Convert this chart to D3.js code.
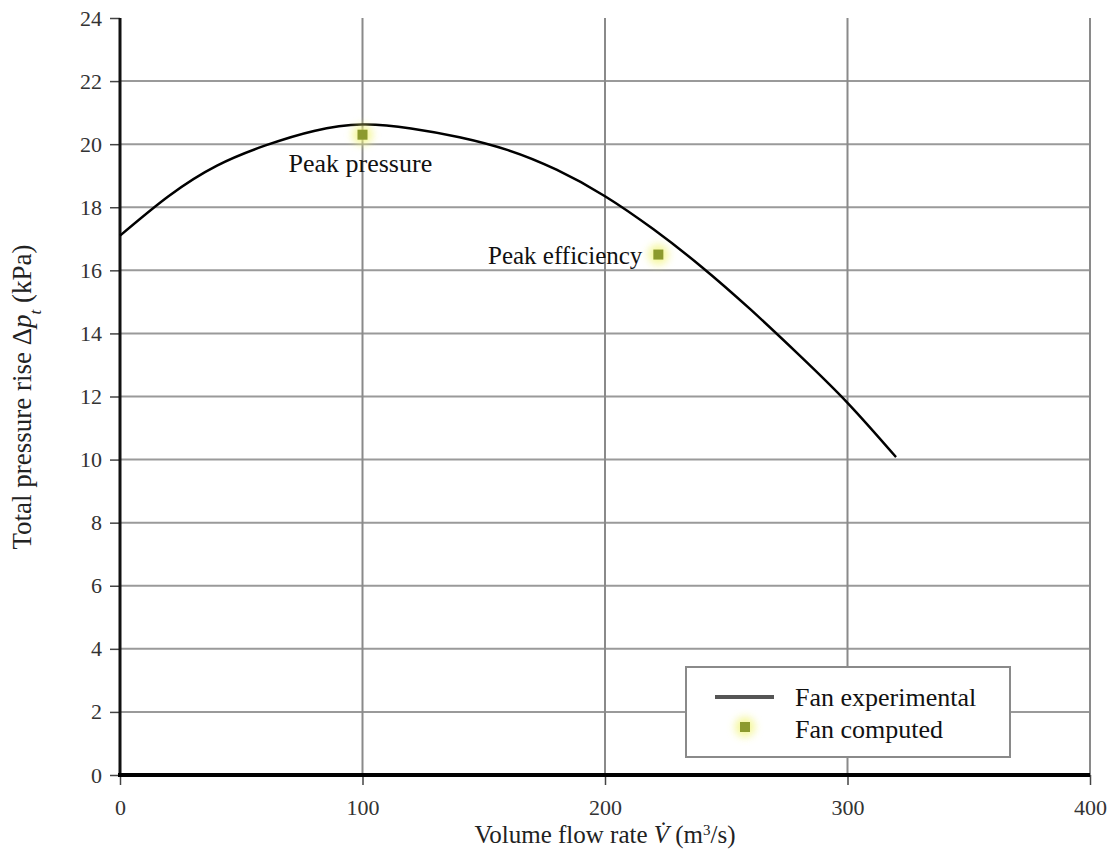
<!DOCTYPE html>
<html>
<head>
<meta charset="utf-8">
<script src="https://cdn.jsdelivr.net/npm/d3@7"></script>
<style>
  html, body { margin: 0; padding: 0; background: #fff; }
  svg { display: block; font-family: "Liberation Serif", "DejaVu Serif", serif; }
</style>
</head>
<body>
<svg id="chart" width="1116" height="852"></svg>
<script>
// Fan characteristic: measured curve
const flowExp = [0, 20, 40, 60, 80, 100, 120, 140, 160, 180, 200, 220, 240, 260, 280, 300, 320];
const pressureExp = [17.1, 18.35, 19.32, 19.96, 20.42, 20.62, 20.5, 20.22, 19.81, 19.19, 18.35, 17.3, 16.1, 14.76, 13.32, 11.8, 10.08];

// Computed operating points
const pointLabels = ["Peak pressure", "Peak efficiency"];
const flowComp = [100, 222];
const pressureComp = [20.3, 16.5];

const xTicks = [0, 100, 200, 300, 400];
const yTicks = [0, 2, 4, 6, 8, 10, 12, 14, 16, 18, 20, 22, 24];

const svg = d3.select("#chart");
const mLeft = 120, mRight = 1090, mTop = 18, mBottom = 775;

const x = d3.scaleLinear().domain([0, 400]).range([mLeft, mRight]);
const y = d3.scaleLinear().domain([0, 24]).range([mBottom, mTop]);

const defs = svg.append("defs");
defs.append("filter").attr("id", "glow").attr("x", "-100%").attr("y", "-100%")
  .attr("width", "300%").attr("height", "300%")
  .append("feGaussianBlur").attr("stdDeviation", 4);

// Grid
const grid = svg.append("g");
grid.selectAll("line.h").data(yTicks.filter(d => d > 0 && d < 24)).join("line")
  .attr("class", "h")
  .attr("x1", mLeft).attr("x2", mRight)
  .attr("y1", d => y(d)).attr("y2", d => y(d))
  .attr("stroke", "#9a9a9a").attr("stroke-width", 2);
grid.selectAll("line.v").data(xTicks.filter(d => d > 0)).join("line")
  .attr("class", "v")
  .attr("x1", d => x(d)).attr("x2", d => x(d))
  .attr("y1", mTop).attr("y2", mBottom)
  .attr("stroke", "#8a8a8a").attr("stroke-width", 2);

// Axes
const yAxis = d3.axisLeft(y).tickValues(yTicks).tickSize(10).tickPadding(8).tickFormat(d3.format("d"));
const gy = svg.append("g").attr("transform", `translate(${mLeft},0)`).call(yAxis);
gy.select(".domain").remove();
gy.selectAll(".tick line").attr("stroke", "#444").attr("stroke-width", 1.5);
gy.selectAll(".tick text").attr("font-family", "Liberation Serif, serif").attr("font-size", 22).attr("fill", "#333");

const xAxis = d3.axisBottom(x).tickValues(xTicks).tickSize(10).tickPadding(14).tickFormat(d3.format("d"));
const gx = svg.append("g").attr("transform", `translate(0,${mBottom})`).call(xAxis);
gx.select(".domain").remove();
gx.selectAll(".tick line").attr("stroke", "#444").attr("stroke-width", 1.5);
gx.selectAll(".tick text").attr("font-family", "Liberation Serif, serif").attr("font-size", 22).attr("fill", "#333");

svg.append("line").attr("x1", mLeft).attr("x2", mLeft).attr("y1", mTop).attr("y2", mBottom + 2)
  .attr("stroke", "#111").attr("stroke-width", 3);
svg.append("line").attr("x1", mLeft - 2).attr("x2", mRight).attr("y1", mBottom).attr("y2", mBottom)
  .attr("stroke", "#000").attr("stroke-width", 4);

// Experimental curve
const line = d3.line().x((d, i) => x(flowExp[i])).y(d => y(d)).curve(d3.curveNatural);
svg.append("path").datum(pressureExp).attr("d", line)
  .attr("fill", "none").attr("stroke", "#000").attr("stroke-width", 2.5);

// Computed points
const pts = svg.append("g");
flowComp.forEach((f, i) => {
  pts.append("circle").attr("cx", x(f)).attr("cy", y(pressureComp[i])).attr("r", 10)
    .attr("fill", "#f1f47a").attr("opacity", 0.8).attr("filter", "url(#glow)");
  pts.append("rect").attr("x", x(f) - 5).attr("y", y(pressureComp[i]) - 5)
    .attr("width", 10).attr("height", 10).attr("fill", "#8c9a2e");
});

// Point annotations
svg.append("text").attr("x", x(flowComp[0]) - 74).attr("y", y(pressureComp[0]) + 37)
  .attr("font-size", 26).attr("fill", "#111").text(pointLabels[0]);
svg.append("text").attr("x", x(flowComp[1]) - 16).attr("y", y(pressureComp[1]) + 9)
  .attr("text-anchor", "end").attr("font-size", 25).attr("fill", "#111").text(pointLabels[1]);

// Axis titles
svg.append("text").attr("x", 605).attr("y", 843).attr("text-anchor", "middle")
  .attr("font-size", 25).attr("fill", "#222")
  .html('Volume flow rate <tspan font-style="italic">V̇</tspan> (m<tspan baseline-shift="super" font-size="15">3</tspan>/s)');
svg.append("text").attr("transform", `translate(31,397) rotate(-90)`)
  .attr("text-anchor", "middle").attr("font-size", 27).attr("fill", "#222")
  .html('Total pressure rise Δ<tspan font-style="italic">p</tspan><tspan baseline-shift="sub" font-size="17" font-style="italic">t</tspan> (kPa)');

// Legend
const lg = svg.append("g");
lg.append("rect").attr("x", 686).attr("y", 667).attr("width", 324).attr("height", 90)
  .attr("fill", "#fff").attr("stroke", "#8a8a8a").attr("stroke-width", 2);
lg.append("line").attr("x1", 715).attr("x2", 774).attr("y1", 697).attr("y2", 697)
  .attr("stroke", "#555").attr("stroke-width", 4);
lg.append("text").attr("x", 795).attr("y", 706).attr("font-size", 26).attr("fill", "#111").text("Fan experimental");
lg.append("circle").attr("cx", 745).attr("cy", 727).attr("r", 10)
  .attr("fill", "#f1f47a").attr("opacity", 0.8).attr("filter", "url(#glow)");
lg.append("rect").attr("x", 740).attr("y", 722).attr("width", 10).attr("height", 10).attr("fill", "#8c9a2e");
lg.append("text").attr("x", 795).attr("y", 738).attr("font-size", 26).attr("fill", "#111").text("Fan computed");
</script>
</body>
</html>
